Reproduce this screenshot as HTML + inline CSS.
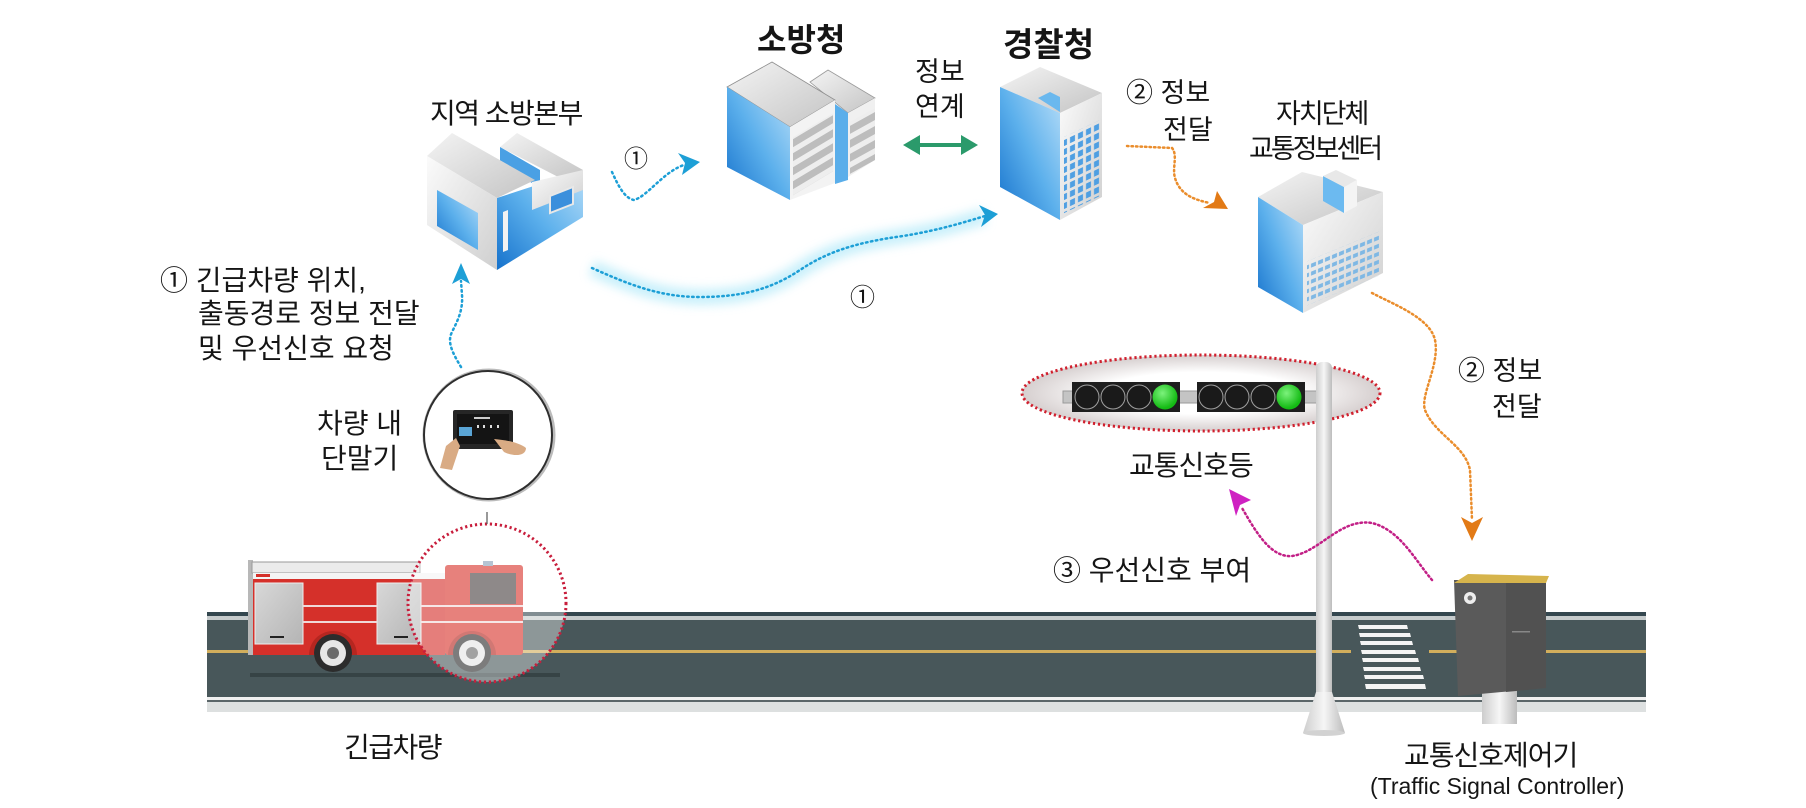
<!DOCTYPE html>
<html><head><meta charset="utf-8">
<style>
html,body{margin:0;padding:0;background:#fff;}
svg{display:block}
text{font-family:"Liberation Sans","Noto Sans CJK KR",sans-serif;fill:#151515;}
</style></head><body>
<svg width="1806" height="808" viewBox="0 0 1806 808" xmlns="http://www.w3.org/2000/svg">
<defs>
 <linearGradient id="bl" x1="1" y1="0" x2="0" y2="1"><stop offset="0" stop-color="#b8def8"/><stop offset="0.5" stop-color="#5cb0ec"/><stop offset="1" stop-color="#1672cc"/></linearGradient>
 <linearGradient id="wh" x1="0" y1="0" x2="1" y2="1"><stop offset="0" stop-color="#fbfbfb"/><stop offset="1" stop-color="#cfcfcf"/></linearGradient>
 <linearGradient id="rf" x1="0" y1="0" x2="1" y2="1"><stop offset="0" stop-color="#f4f4f4"/><stop offset="1" stop-color="#c4c4c4"/></linearGradient>
 <linearGradient id="pole" x1="0" y1="0" x2="1" y2="0"><stop offset="0" stop-color="#cdcdcd"/><stop offset="0.5" stop-color="#f6f6f6"/><stop offset="1" stop-color="#bcbcbc"/></linearGradient>
 <linearGradient id="slv" x1="0" y1="0" x2="1" y2="1"><stop offset="0" stop-color="#d8d8d8"/><stop offset="1" stop-color="#b4b4b4"/></linearGradient>
 <radialGradient id="ell" cx="0.5" cy="0.5" r="0.5"><stop offset="0.55" stop-color="#ffffff"/><stop offset="1" stop-color="#d6cfcf"/></radialGradient>
 <radialGradient id="grn" cx="0.4" cy="0.35" r="0.6"><stop offset="0" stop-color="#7cf27c"/><stop offset="1" stop-color="#14bb14"/></radialGradient>
 <filter id="blur" x="-20%" y="-80%" width="140%" height="260%"><feGaussianBlur stdDeviation="5"/></filter>
 <pattern id="win" width="8" height="9" patternUnits="userSpaceOnUse"><rect x="2" y="2" width="5" height="6" fill="#4f9fe2"/></pattern>
 <pattern id="win2" width="7" height="8" patternUnits="userSpaceOnUse"><rect x="1" y="2" width="5" height="4" fill="#7fb8e4"/></pattern>
 <pattern id="slat" width="10" height="14" patternUnits="userSpaceOnUse"><rect x="0" y="0" width="10" height="8" fill="#bdbdbd"/><rect x="0" y="8" width="10" height="6" fill="#eeeeee"/></pattern>
</defs>

<!-- ROAD -->
<rect x="207" y="612" width="1439" height="4" fill="#34474f"/>
<rect x="207" y="616" width="1439" height="4" fill="#c6cbcc"/>
<rect x="207" y="620" width="1439" height="77" fill="#48575a"/>
<rect x="207" y="697" width="1439" height="3" fill="#f0f0f0"/>
<rect x="207" y="700" width="1439" height="2" fill="#5b6669"/>
<rect x="207" y="702" width="1439" height="10" fill="#dde0e0"/>
<rect x="207" y="650" width="1144" height="3" fill="#d2ae5c"/>
<rect x="1429" y="650" width="30" height="3" fill="#d2ae5c"/>
<rect x="1542" y="650" width="104" height="3" fill="#d2ae5c"/>

<!-- crosswalk -->
<g fill="#f4f4f4">
 <polygon points="1358,625 1407,625 1408,629 1359,629"/>
 <polygon points="1359,633 1410,633 1411,637 1360,637"/>
 <polygon points="1360,641 1412,641 1413,645 1361,645"/>
 <polygon points="1361,650 1415,650 1416,654 1362,654"/>
 <polygon points="1362,658 1418,658 1419,662 1363,662"/>
 <polygon points="1363,667 1420,667 1421,671 1364,671"/>
 <polygon points="1364,675 1423,675 1424,679 1365,679"/>
 <polygon points="1365,684 1425,684 1426,689 1366,689"/>
</g>

<!-- FIRE TRUCK -->
<rect x="250" y="673" width="310" height="4" fill="#2f3a3c" opacity="0.7"/>
<rect x="248" y="560" width="5" height="95" fill="#b8b8b8"/>
<rect x="252" y="562" width="168" height="11" fill="#ebebeb" stroke="#9a9a9a" stroke-width="1"/>
<rect x="253" y="573" width="192" height="6" fill="#f4f4f4"/>
<rect x="256" y="574" width="14" height="3" fill="#d5302a"/>
<rect x="253" y="579" width="192" height="76" fill="#d5302a"/>
<rect x="445" y="565" width="78" height="90" fill="#d8352c" rx="3"/>
<rect x="470" y="573" width="46" height="31" fill="#4a4242"/>
<rect x="483" y="561" width="10" height="5" fill="#8aa0b8"/>
<rect x="255" y="583" width="48" height="61" fill="url(#slv)" stroke="#eee"/>
<rect x="377" y="583" width="44" height="61" fill="url(#slv)" stroke="#eee"/>
<rect x="270" y="636" width="14" height="2" fill="#222"/>
<rect x="394" y="636" width="14" height="2" fill="#222"/>
<rect x="303" y="605" width="74" height="2" fill="#f0d8d8"/>
<rect x="303" y="621" width="74" height="2" fill="#f0d8d8"/>
<rect x="421" y="605" width="102" height="2" fill="#f0d8d8"/>
<rect x="421" y="621" width="102" height="2" fill="#f0d8d8"/>
<path d="M309,655 A24,24 0 0 1 357,655 Z" fill="#b52620"/>
<circle cx="333" cy="653" r="19" fill="#2c2c2c"/>
<circle cx="333" cy="653" r="13" fill="#e6e6e6"/>
<circle cx="333" cy="653" r="6" fill="#6a6a6a"/>
<path d="M448,655 A24,24 0 0 1 496,655 Z" fill="#b52620"/>
<circle cx="472" cy="653" r="19" fill="#2c2c2c"/>
<circle cx="472" cy="653" r="13" fill="#e6e6e6"/>
<circle cx="472" cy="653" r="6" fill="#6a6a6a"/>
<circle cx="487" cy="603" r="79" fill="#ffffff" fill-opacity="0.38" stroke="#c81e3c" stroke-width="3" stroke-dasharray="2.2 2.8"/>
<line x1="487" y1="512" x2="487" y2="524" stroke="#555" stroke-width="1.2"/>

<!-- TABLET CIRCLE -->
<circle cx="489" cy="435" r="65" fill="none" stroke="#bbbbbb" stroke-width="3"/>
<circle cx="488" cy="435" r="64" fill="#fff" stroke="#2e2e2e" stroke-width="2"/>
<rect x="453" y="410" width="60" height="39" rx="2" fill="#262626"/>
<rect x="457" y="414" width="52" height="30" fill="#141414"/>
<rect x="474" y="417" width="16" height="2" fill="#ccc"/>
<rect x="459" y="427" width="13" height="9" fill="#5aa5d6"/>
<rect x="477" y="425" width="2" height="3" fill="#ddd"/><rect x="483" y="425" width="2" height="3" fill="#ddd"/><rect x="490" y="425" width="2" height="3" fill="#ddd"/><rect x="497" y="425" width="2" height="3" fill="#ddd"/>
<path d="M440,468 L446,446 L456,438 L460,446 L452,470 Z" fill="#d9ab84"/>
<path d="M494,439 C505,440 518,442 526,448 C526,456 514,457 504,452 Z" fill="#d9ab84"/>

<!-- 지역 소방본부 building -->
<polygon points="497,198 583,170 583,217 497,270" fill="url(#bl)"/>
<polygon points="500,147 517,133 583,170 566,181" fill="url(#rf)"/>
<polygon points="500,147 540,170 540,188 500,163" fill="#4aa0e4"/>
<polygon points="532,182 583,170 583,190 532,210" fill="url(#wh)"/>
<polygon points="550,196 573,187 573,204 550,213" fill="#3b8fdc" stroke="#e8e8e8" stroke-width="2"/>
<polygon points="427,156 452,133 535,180 497,198" fill="url(#rf)"/>
<polygon points="427,156 497,198 497,270 427,225" fill="url(#wh)"/>
<polygon points="437,190 478,213 478,250 437,226" fill="url(#bl)"/>
<polygon points="503,212 508,210 508,250 503,252" fill="#f2f2f2"/>

<!-- 소방청 servers -->
<polygon points="810,82 828,70 875,98 848,113" fill="url(#rf)" stroke="#9a9a9a" stroke-width="0.8"/>
<polygon points="848,113 875,98 875,160 848,177" fill="#f0f0f0"/>
<g transform="matrix(1,-0.555,0,1,848,113)"><rect x="2" y="10" width="25" height="52" fill="url(#slat)"/></g>
<polygon points="835,104 848,113 848,180 835,184" fill="#5aaeea"/>
<polygon points="727,87 772,62 835,100 790,127" fill="url(#rf)" stroke="#8f8f8f" stroke-width="0.8"/>
<polygon points="727,87 790,127 790,200 727,167" fill="url(#bl)"/>
<polygon points="790,127 835,100 835,183 790,200" fill="#f3f3f3"/>
<g transform="matrix(1,-0.6,0,1,790,127)"><rect x="3" y="12" width="40" height="58" fill="url(#slat)"/></g>

<!-- 경찰청 tower -->
<polygon points="1000,87 1040,67 1102,93 1060,113" fill="url(#rf)"/>
<polygon points="1038,98 1050,92 1060,97 1060,112" fill="#6ab8ee"/>
<polygon points="1000,87 1060,113 1060,220 1000,187" fill="url(#bl)"/>
<polygon points="1060,113 1102,93 1102,197 1060,220" fill="url(#wh)"/>
<g transform="matrix(1,-0.476,0,1,1060,113)"><rect x="4" y="26" width="36" height="76" fill="url(#win)"/></g>

<!-- 교통정보센터 building -->
<polygon points="1258,197 1302,172 1383,192 1303,225" fill="url(#rf)"/>
<polygon points="1258,197 1303,225 1303,313 1258,287" fill="url(#bl)"/>
<polygon points="1303,225 1383,192 1383,273 1303,313" fill="url(#wh)"/>
<g transform="matrix(1,-0.4125,0,1,1303,225)"><rect x="4" y="38" width="72" height="44" fill="url(#win2)"/></g>
<polygon points="1323,176 1344,187 1344,213 1323,201" fill="#6cbaf0"/>
<polygon points="1323,176 1336,170 1357,180 1344,187" fill="#e8e8e8"/>
<polygon points="1344,187 1357,180 1357,206 1344,213" fill="#f4f4f4"/>

<!-- TRAFFIC LIGHT -->
<ellipse cx="1201" cy="393" rx="179" ry="38" fill="url(#ell)" stroke="#d0202e" stroke-width="3" stroke-dasharray="2.2 2.8"/>
<rect x="1063" y="391" width="255" height="12" fill="#c4c4c4" stroke="#9a9a9a" stroke-width="1"/>
<rect x="1072" y="382" width="108" height="30" fill="#1e1e1e"/>
<rect x="1197" y="382" width="108" height="30" fill="#1e1e1e"/>
<g fill="#1a1a1a" stroke="#a0a0a0" stroke-width="1">
 <circle cx="1087" cy="397" r="12"/><circle cx="1113" cy="397" r="12"/><circle cx="1139" cy="397" r="12"/>
 <circle cx="1211" cy="397" r="12"/><circle cx="1237" cy="397" r="12"/><circle cx="1263" cy="397" r="12"/>
</g>
<circle cx="1165" cy="397" r="12.5" fill="url(#grn)"/>
<circle cx="1289" cy="397" r="12.5" fill="url(#grn)"/>
<rect x="1316" y="362" width="16" height="340" rx="6" fill="url(#pole)"/>
<polygon points="1316,692 1332,692 1345,733 1303,733" fill="url(#pole)"/>
<ellipse cx="1324" cy="733" rx="21" ry="3" fill="#d2d2d2"/>

<!-- CONTROLLER -->
<rect x="1482" y="688" width="35" height="36" fill="url(#pole)"/>
<polygon points="1454,580 1546,580 1546,688 1458,696" fill="#5a5a5a"/>
<polygon points="1506,580 1546,580 1546,688 1506,692" fill="#515151"/>
<polygon points="1454,583 1468,574 1549,576 1546,583" fill="#d6b44c"/>
<circle cx="1470" cy="598" r="6" fill="#eeeeee"/><circle cx="1470" cy="598" r="2.5" fill="#777"/>
<rect x="1512" y="631" width="18" height="1.5" fill="#888"/>

<!-- ARROWS -->
<!-- long cyan glow -->
<path d="M592,268 C630,285 660,297 700,297 C740,297 770,290 800,270 C830,250 860,242 903,236 C940,230 965,222 985,216" fill="none" stroke="#a6e6f8" stroke-width="16" opacity="0.6" filter="url(#blur)"/>
<path d="M592,268 C630,285 660,297 700,297 C740,297 770,290 800,270 C830,250 860,242 903,236 C940,230 965,222 985,216" fill="none" stroke="#1d9fd6" stroke-width="2.5" stroke-dasharray="1.5 3.5" stroke-linecap="round"/>
<polygon points="979,205 998,214 981,227 985,215" fill="#1d9fd6"/>
<!-- short cyan -->
<path d="M612,172 C618,185 624,198 634,200 C648,196 663,172 684,165" fill="none" stroke="#1d9fd6" stroke-width="2.5" stroke-dasharray="1.5 3.5" stroke-linecap="round"/>
<polygon points="678,153 700,162 682,175 685,163" fill="#1d9fd6"/>
<!-- up cyan -->
<path d="M461,367 C452,352 447,342 452,332 C458,320 463,310 462,295 L461,281" fill="none" stroke="#1d9fd6" stroke-width="2.5" stroke-dasharray="1.5 3.5" stroke-linecap="round"/>
<polygon points="461,263 470,284 461,279 452,284" fill="#1d9fd6"/>
<!-- green double -->
<line x1="915" y1="145" x2="966" y2="145" stroke="#2b9a6b" stroke-width="4"/>
<polygon points="903,145 920,135 920,155" fill="#2b9a6b"/>
<polygon points="978,145 961,135 961,155" fill="#2b9a6b"/>
<!-- orange top -->
<path d="M1127,146 L1172,148 C1178,155 1172,168 1175,178 C1180,195 1195,200 1210,203" fill="none" stroke="#ea8d2c" stroke-width="2.5" stroke-dasharray="1.5 3" stroke-linecap="round"/>
<polygon points="1217,191 1228,209 1203,208 1214,202" fill="#e27a16"/>
<!-- orange lower -->
<path d="M1372,293 C1395,305 1430,318 1435,340 C1440,365 1420,395 1425,410 C1435,435 1465,445 1470,470 L1472,520" fill="none" stroke="#ea8d2c" stroke-width="2.5" stroke-dasharray="1.5 3" stroke-linecap="round"/>
<polygon points="1461,517 1472,523 1483,517 1472,541" fill="#e27a16"/>
<!-- magenta -->
<path d="M1432,580 C1415,560 1400,530 1372,523 C1340,518 1320,552 1292,556 C1270,558 1255,530 1242,508" fill="none" stroke="#c21f86" stroke-width="2.5" stroke-dasharray="1.5 3" stroke-linecap="round"/>
<polygon points="1229,489 1251,500 1240,505 1236,516" fill="#cf22c2"/>

<!-- TEXT -->
<text x="757" y="51" font-size="32" font-weight="700">소방청</text>
<text x="1003" y="56" font-size="33" font-weight="700">경찰청</text>
<text x="430" y="123" font-size="28" letter-spacing="-1.5">지역 소방본부</text>
<text x="915" y="81" font-size="27">정보</text>
<text x="915" y="116" font-size="27">연계</text>
<text x="624" y="167" font-size="24">①</text>
<text x="1126" y="102" font-size="27">② 정보</text>
<text x="1163" y="139" font-size="27">전달</text>
<text x="1276" y="123" font-size="27" letter-spacing="-2">자치단체</text>
<text x="1249" y="158" font-size="27" letter-spacing="-3">교통정보센터</text>
<text x="160" y="290" font-size="28">① 긴급차량 위치,</text>
<text x="198" y="323" font-size="28">출동경로 정보 전달</text>
<text x="198" y="358" font-size="28">및 우선신호 요청</text>
<text x="850" y="306" font-size="25">①</text>
<text x="317" y="433" font-size="28">차량 내</text>
<text x="321" y="468" font-size="28">단말기</text>
<text x="344" y="757" font-size="28" letter-spacing="-1.5">긴급차량</text>
<text x="1129" y="475" font-size="28" letter-spacing="-1">교통신호등</text>
<text x="1053" y="580" font-size="28">③ 우선신호 부여</text>
<text x="1458" y="380" font-size="27">② 정보</text>
<text x="1492" y="416" font-size="27">전달</text>
<text x="1404" y="765" font-size="28" letter-spacing="-1">교통신호제어기</text>
<text x="1370" y="794" font-size="23">(Traffic Signal Controller)</text>
</svg>
</body></html>
